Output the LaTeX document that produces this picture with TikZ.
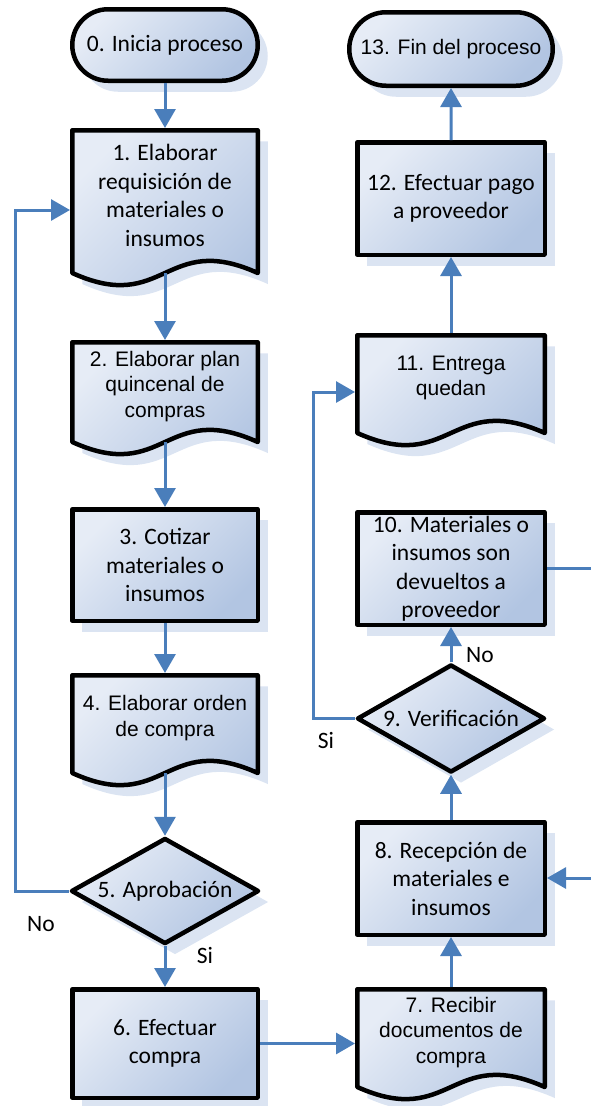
\documentclass[tikz,border=0pt]{standalone}
\usepackage{fontspec}
\setmainfont{Carlito}
\newfontfamily\arialfont{Liberation Sans}
\usetikzlibrary{arrows.meta,shapes.geometric,shapes.misc,shadows}

\definecolor{linec}{RGB}{74,126,187}
\definecolor{fillhi}{RGB}{230,236,246}
\definecolor{filllo}{RGB}{178,197,226}
\definecolor{shadowc}{RGB}{219,228,242}

\tikzset{
  shadeit/.style={top color=fillhi, bottom color=filllo, shading angle=45},
  border/.style={draw=black, line width=4.5pt, line join=round},
  boxshadow/.style={drop shadow={shadow xshift=10pt, shadow yshift=-11pt, fill=shadowc, opacity=1}},
  calib/.style={font=\fontsize{23.5}{28.5}\selectfont},
  arial/.style={font=\arialfont\fontsize{21}{25.5}\selectfont},
  procbox/.style={rectangle, border, shadeit, boxshadow, align=center, inner sep=0pt, outer sep=2.25pt},
  termbox/.style={rounded rectangle, border, shadeit, boxshadow, align=center, inner sep=0pt, outer sep=2.25pt},
  decbox/.style={diamond, aspect=1.8, border, shadeit, boxshadow, align=center, inner sep=0pt, outer sep=2.25pt},
  doctext/.style={rectangle, align=center, inner sep=0pt, outer sep=2.25pt},
  conn/.style={draw=linec, line width=3pt, -{Triangle[length=19pt,width=21pt]}},
  plainconn/.style={draw=linec, line width=3pt},
  lbl/.style={calib, inner sep=0pt},
}

% document symbol: name, centre x, top, wave baseline, width, font style, text
\newcommand\docbox[7]{%
  \fill[shadowc] (#2-#5/2+10,#3+11) -- (#2+#5/2+10,#3+11) -- (#2+#5/2+10,#4+11)
     .. controls (#2+10,#4+11-42) and (#2+10,#4+11+42) .. (#2-#5/2+10,#4+11) -- cycle;
  \draw[border, shadeit] (#2-#5/2,#3) -- (#2+#5/2,#3) -- (#2+#5/2,#4)
     .. controls (#2,#4-42) and (#2,#4+42) .. (#2-#5/2,#4) -- cycle;
  \node[doctext, #6, minimum width=#5pt, minimum height={(#4-12-#3)*1pt}]
     (#1) at (#2,{(#3+#4-12)/2}) {#7};
  \coordinate (#1-b) at (#2,#4);
}

\begin{document}
\begin{tikzpicture}[x=1pt, y=-1pt]
\useasboundingbox (0,0) rectangle (591,1106);

% ---- left column ----
\node[termbox, calib, minimum width=185.5pt, minimum height=71.5pt] (n0) at (165,45) {0. Inicia proceso};
\docbox{n1}{165}{130.25}{273}{185.5}{calib}{1. Elaborar\\requisición de\\materiales o\\insumos}
\docbox{n2}{165}{342.25}{442}{185.5}{arial}{2. Elaborar plan\\quincenal de\\compras}
\node[procbox, calib, minimum width=185.5pt, minimum height=111.5pt] (n3) at (165,565) {3. Cotizar\\materiales o\\insumos};
\docbox{n4}{165}{675.25}{773}{185.5}{arial}{4. Elaborar orden\\de compra}
\node[decbox, calib, minimum width=188pt, minimum height=106pt] (n5) at (165,891) {5. Aprobación};
\node[procbox, calib, minimum width=185.5pt, minimum height=108.5pt] (n6) at (165,1043.5) {6. Efectuar\\compra};

% ---- right column ----
\node[termbox, arial, minimum width=203.5pt, minimum height=73.5pt] (n13) at (451,49) {13. Fin del proceso};
\node[procbox, calib, minimum width=187.5pt, minimum height=112.5pt] (n12) at (451,198.5) {12. Efectuar pago\\a proveedor};
\docbox{n11}{451}{335.25}{433}{187.5}{arial}{11. Entrega\\quedan}
\node[procbox, calib, minimum width=187.5pt, minimum height=112.5pt] (n10) at (451,568.5) {10. Materiales o\\insumos son\\devueltos a\\proveedor};
\node[decbox, calib, minimum width=188pt, minimum height=108pt] (n9) at (451,718.5) {9. Verificación};
\node[procbox, calib, minimum width=187.5pt, minimum height=112.5pt] (n8) at (451,878.5) {8. Recepción de\\materiales e\\insumos};
\docbox{n7}{451}{989.25}{1087}{187.5}{arial}{7. Recibir\\documentos de\\compra}

% ---- connector bends and page-edge ends ----
\coordinate (k1) at (15,210);
\coordinate (k2) at (313,392);
\coordinate (e1) at (591,568);
\coordinate (e2) at (591,878);

% ---- connectors ----
\draw[conn] (n0) -- (n1);
\draw[conn] (n1-b) -- (n2);
\draw[conn] (n2-b) -- (n3);
\draw[conn] (n3) -- (n4);
\draw[conn] (n4-b) -- (n5);
\draw[conn] (n5) -- (n6);
\draw[conn] (n5.west) -| (k1) -- (k1 -| n1.west);
\draw[conn] (n6.east) -- (n6.east -| n7.west);
\draw[conn] (n7) -- (n8);
\draw[conn] (n8) -- (n9);
\draw[conn] (n9) -- (n10);
\draw[conn] (n9.west) -| (k2) -- (k2 -| n11.west);
\draw[conn] (n11) -- (n12);
\draw[conn] (n12) -- (n13);
\draw[plainconn] (n10.east) -- (n10.east -| e1);
\draw[conn] (e2) -- (e2 -| n8.east);

% ---- branch labels ----
\node[lbl] (l5no) at (41,924) {No};
\node[lbl] (l5si) at (205,955) {Si};
\node[lbl] (l9si) at (326,740) {Si};
\node[lbl] (l9no) at (480,655) {No};
\end{tikzpicture}
\end{document}
